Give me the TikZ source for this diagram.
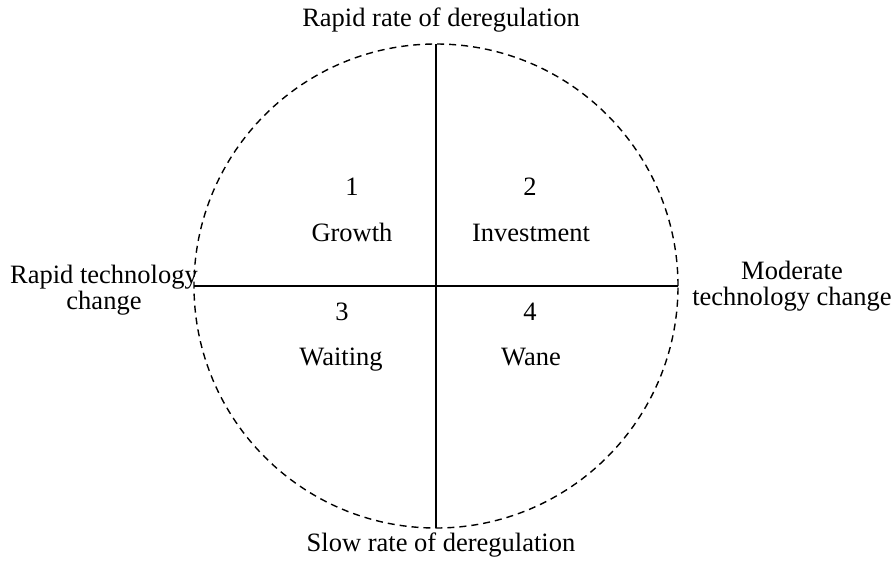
\documentclass[tikz,border=0pt]{standalone}
\usepackage{fontspec}
\setmainfont{Liberation Serif}
\begin{document}
\begin{tikzpicture}[x=1pt,y=-1pt,
  lbl/.style={font=\fontsize{26.5}{26}\selectfont, inner sep=0pt, anchor=base, align=center},
  axis/.style={line width=1.5pt, black},
  ring/.style={line width=1.4pt, dash pattern=on 7pt off 5pt, black}]
\useasboundingbox (0,0) rectangle (893,560);
\coordinate (c) at (436,286);
\coordinate (t) at (436,44);
\coordinate (b) at (436,528);
\coordinate (l) at (194,286);
\coordinate (r) at (678,286);
\draw[ring] (c) circle[radius=242pt];
\draw[axis] (t) -- (b);
\draw[axis] (l) -- (r);
\node[lbl] (top) at (441,26) {Rapid rate of deregulation};
\node[lbl] (bottom) at (441,551) {Slow rate of deregulation};
\node[lbl] (left) at (104,309) {Rapid technology\\change};
\node[lbl] (right) at (792,305) {Moderate\\technology change};
\node[lbl] (n1) at (352,195) {1};
\node[lbl] (q1) at (352,241) {Growth};
\node[lbl] (n2) at (530,195) {2};
\node[lbl] (q2) at (531,241) {Investment};
\node[lbl] (n3) at (342,320) {3};
\node[lbl] (q3) at (341,365) {Waiting};
\node[lbl] (n4) at (530,320) {4};
\node[lbl] (q4) at (531,365) {Wane};
\end{tikzpicture}
\end{document}
